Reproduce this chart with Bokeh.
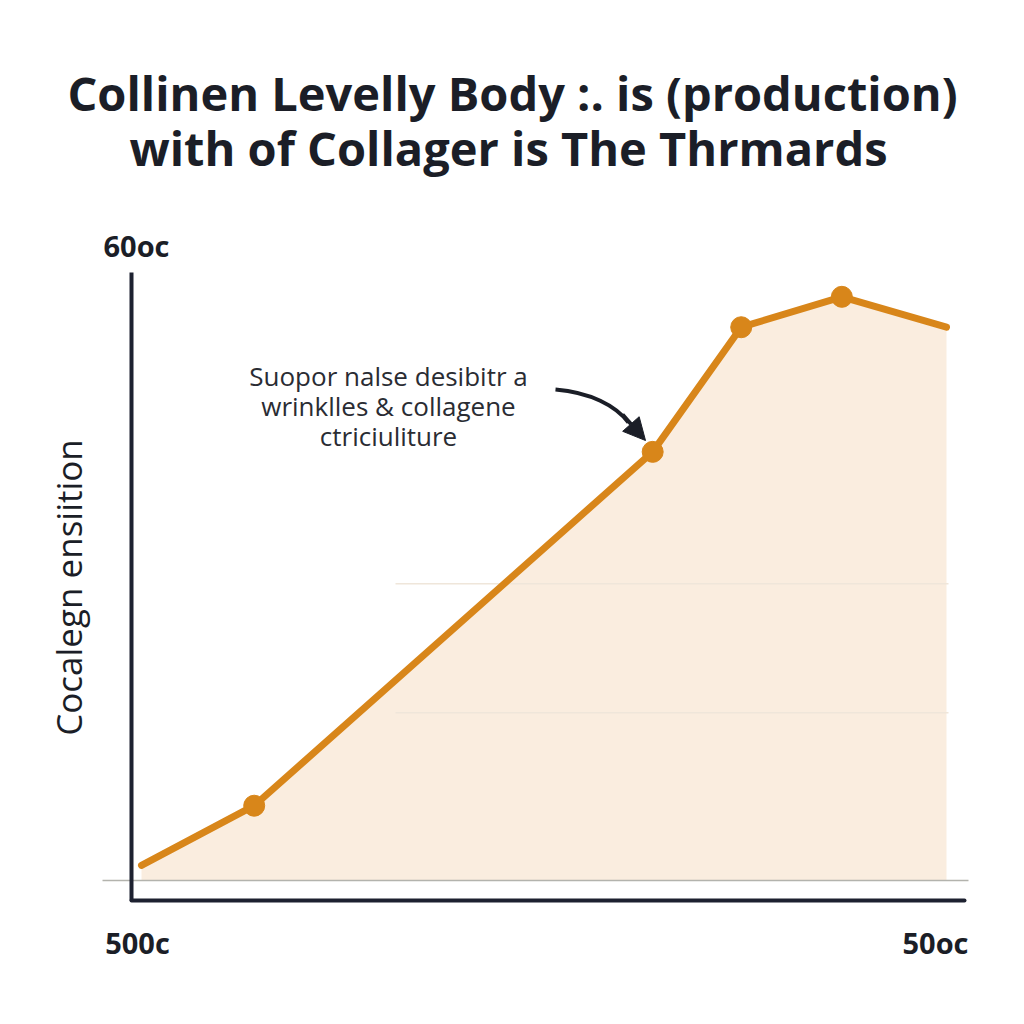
from bokeh.plotting import figure
from bokeh.models import ColumnDataSource, Arrow, NormalHead
from bokeh.core.properties import value
from bokeh.embed import file_html
from bokeh.resources import INLINE

# ---------------- data ----------------
ages = [0.0, 1.4, 6.35, 7.45, 8.7, 10.0]
collagen = [2.5, 12.3, 70.5, 91.0, 96.0, 91.0]
marker_idx = [1, 2, 3, 4]

title_lines = ["Collinen Levelly Body :. is (production)",
               "with of Collager is The Thrmards"]
y_label = "Cocalegn ensiition"
y_top_label = "60oc"
x_tick_labels = ["500c", "50oc"]
note_lines = ["Suopor nalse desibitr a", "wrinklles & collagene", "ctriciuliture"]

# ---------------- scales (canvas 1024 x 1024) ----------------
W = H = 1024
X0_PX, X_UNIT = 141.0, 80.5    # data x=0 at pixel 141, 80.5 px per unit
Y0_PX, Y_UNIT = 880.0, 6.08    # data y=0 at pixel 880, 6.08 px per unit
x_start, x_end = -X0_PX / X_UNIT, (W - X0_PX) / X_UNIT
y_start, y_end = -(H - Y0_PX) / Y_UNIT, Y0_PX / Y_UNIT


def dx(px):
    return (px - X0_PX) / X_UNIT


def dy(py):
    return (Y0_PX - py) / Y_UNIT


p = figure(width=W, height=H, x_range=(x_start, x_end), y_range=(y_start, y_end),
           output_backend="svg", toolbar_location=None,
           min_border=0, min_border_left=0, min_border_right=0,
           min_border_top=0, min_border_bottom=0)
p.axis.visible = False
p.grid.visible = False
p.outline_line_color = None
p.background_fill_color = "white"
p.border_fill_color = "white"

LINE_C = "#d8861a"
FILL_C = "#faeddf"
AX_C = "#1d2130"
TXT_C = "#1b1e27"

# area fill under the curve
src = ColumnDataSource(dict(x=ages, y=collagen, base=[0.0] * len(ages)))
p.varea(x="x", y1="base", y2="y", source=src, fill_color=FILL_C, fill_alpha=1.0)

# faint gridlines
for gy in [27.6, 48.8]:
    p.line([dx(395), dx(948)], [gy, gy], line_color="#efe6da", line_width=1.5)

# gray baseline
p.line([dx(102), dx(968)], [0, 0], line_color="#b3b3ad", line_width=1.5)

# axes
p.line([dx(131), dx(131)], [dy(272), dy(900)], line_color=AX_C, line_width=4)
p.line([dx(131), dx(964)], [dy(900), dy(900)], line_color=AX_C, line_width=4,
       line_cap="round")

# the series
p.line(x="x", y="y", source=src, line_color=LINE_C, line_width=7,
       line_join="round", line_cap="round")
msrc = ColumnDataSource(dict(x=[ages[i] for i in marker_idx],
                             y=[collagen[i] for i in marker_idx]))
p.scatter(x="x", y="y", source=msrc, size=21, fill_color=LINE_C,
          line_color=LINE_C, marker="circle")

# title
FONT = "Open Sans"
p.text(x=[dx(512)], y=[dy(92)], text=[title_lines[0]], text_font=value(FONT),
       text_font_size="47px", text_font_style="bold", text_color=TXT_C,
       text_align="center", text_baseline="middle")
p.text(x=[dx(508)], y=[dy(147)], text=[title_lines[1]], text_font=value(FONT),
       text_font_size="47px", text_font_style="bold", text_color=TXT_C,
       text_align="center", text_baseline="middle")

# y label
p.text(x=[dx(68)], y=[dy(587)], text=[y_label], text_font=value(FONT),
       text_font_size="35px", text_color=TXT_C, angle=1.5708,
       text_align="center", text_baseline="middle")

# tick-like labels
p.text(x=[dx(136)], y=[dy(245)], text=[y_top_label], text_font=value(FONT),
       text_font_size="29px", text_font_style="bold", text_color=TXT_C,
       text_align="center", text_baseline="middle")
p.text(x=[dx(137), dx(935)], y=[dy(942), dy(942)], text=x_tick_labels,
       text_font=value(FONT), text_font_size="29px", text_font_style="bold",
       text_color=TXT_C, text_align="center", text_baseline="middle")

# note
for i, t in enumerate(note_lines):
    p.text(x=[dx(388)], y=[dy(375 + 30 * i)], text=[t], text_font=value(FONT),
           text_font_size="26px", text_color="#2a2c33",
           text_align="center", text_baseline="middle")

# curved arrow
p.bezier(x0=[dx(555)], y0=[dy(389)], x1=[dx(628)], y1=[dy(422)],
         cx0=[dx(590)], cy0=[dy(392)], cx1=[dx(615)], cy1=[dy(405)],
         line_color=TXT_C, line_width=4)
p.add_layout(Arrow(end=NormalHead(size=22, fill_color=TXT_C, line_color=TXT_C),
                   x_start=dx(622), y_start=dy(414), x_end=dx(645), y_end=dy(440),
                   line_color=TXT_C, line_width=4))

open("out.html", "w").write(file_html(p, INLINE))
